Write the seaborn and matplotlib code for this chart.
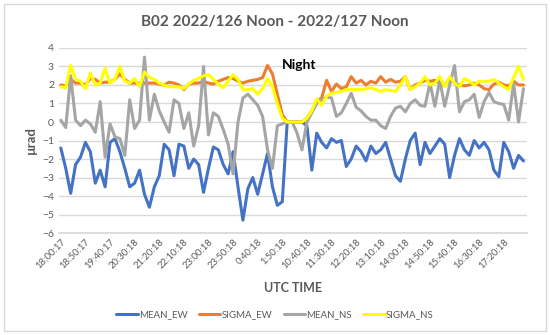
import numpy as np
import pandas as pd
import matplotlib
matplotlib.use("Agg")
import matplotlib.pyplot as plt
import seaborn as sns
from matplotlib.patches import Rectangle

sns.set_theme(style="white")
plt.rcParams["font.family"] = ["Lato", "DejaVu Sans"]

TEXT = "#595959"
GRID = "#d9d9d9"

# ── data (one value every 10 min sample) ─────────────────────────────────────
tick_labels = ["18:00:17", "18:50:17", "19:40:17", "20:30:18", "21:20:18",
               "22:10:18", "23:00:18", "23:50:18", "0:40:18", "1:50:18",
               "10:40:18", "11:30:18", "12:20:18", "13:10:18", "14:00:18",
               "14:50:18", "15:40:18", "16:30:18", "17:20:18"]

mean_ew = [-1.4, -2.5, -3.85, -2.3, -1.9, -1.1, -1.6, -3.3, -2.6, -3.5,
           -1.1, -0.9, -1.6, -2.5, -3.5, -3.3, -2.6, -3.9, -4.6, -3.5,
           -2.9, -1.2, -1.5, -2.9, -1.2, -1.3, -2.5, -2.0, -2.3, -3.8,
           -2.5, -1.35, -1.5, -2.3, -2.8, -1.6, -3.5, -5.3, -3.6, -3.0,
           -3.9, -2.8, -1.7, -3.5, -4.5, -4.3, 0.0, 0.0, 0.0, 0.0,
           -0.2, -2.6, -0.6, -1.1, -1.4, -0.9, -1.1, -1.0, -2.4, -2.0,
           -1.3, -1.6, -2.1, -1.3, -1.7, -1.5, -1.1, -2.0, -2.9, -3.2,
           -2.0, -1.0, -0.6, -2.3, -1.1, -1.7, -1.3, -0.9, -1.2, -3.0,
           -1.8, -0.9, -1.5, -1.8, -1.0, -1.4, -1.1, -1.5, -2.6, -2.95,
           -1.1, -1.6, -2.5, -1.8, -2.1]

sigma_ew = [2.0, 1.95, 2.3, 2.1, 2.1, 2.0, 2.35, 2.3, 2.1, 2.15,
            2.15, 2.3, 2.6, 2.3, 2.1, 2.1, 2.1, 2.1, 2.1, 2.1,
            2.05, 2.0, 2.15, 2.1, 2.0, 1.75, 2.05, 2.1, 2.1, 2.2,
            2.1, 2.05, 2.2, 2.3, 2.4, 2.35, 2.2, 2.1, 2.2, 2.25,
            2.3, 2.4, 3.05, 2.6, 1.5, 0.4, 0.0, 0.0, 0.0, 0.0,
            0.2, 0.6, 1.1, 1.3, 2.25, 1.65, 2.05, 1.8, 1.9, 2.45,
            2.1, 2.25, 2.0, 2.2, 2.1, 2.45, 2.15, 2.3, 2.15, 2.2,
            2.45, 1.75, 2.0, 2.1, 2.25, 2.2, 2.25, 2.1, 2.0, 2.35,
            2.1, 2.0, 1.95, 2.0, 2.1, 2.0, 1.8, 1.75, 2.05, 2.15,
            2.0, 1.95, 2.2, 2.0, 2.0]

mean_ns = [0.1, -0.3, 2.5, 0.1, -0.2, 0.1, -0.1, -0.55, 1.1, -1.9,
           -0.1, -0.8, -0.9, -1.8, 1.2, -0.35, 0.1, 3.5, 0.1, 1.5,
           0.6, 0.0, -0.55, 1.2, 1.0, -0.35, 0.5, -1.3, -0.2, 3.0,
           -0.7, 0.5, 0.3, -0.4, -1.2, -2.8, 0.0, 1.3, 1.5, 1.2,
           0.9, 0.3, -1.5, -2.5, -0.2, -0.1, 0.0, 0.0, -0.6, -1.5,
           0.0, 0.5, 1.0, 1.2, 1.35, 1.3, 0.3, 0.5, 1.0, 1.55,
           0.8, 0.6, 0.3, 0.1, 0.1, -0.2, -0.35, 0.3, 0.75, 0.85,
           0.55, 1.0, 1.2, 0.9, 0.85, 2.1, 0.85, 2.25, 0.85, 2.0,
           3.05, 0.55, 1.1, 1.2, 1.5, 0.25, 1.1, 1.6, 1.1, 1.0,
           0.95, 0.1, 2.1, 0.0, 1.8]

sigma_ns = [1.9, 1.85, 3.05, 2.3, 2.2, 1.8, 2.65, 2.0, 2.1, 2.9,
            2.1, 2.3, 3.0, 2.2, 2.1, 2.35, 1.9, 2.7, 2.4, 2.3,
            2.1, 2.0, 1.9, 1.9, 1.9, 1.8, 2.05, 2.25, 2.35, 2.5,
            2.55, 2.3, 2.05, 1.85, 2.2, 2.55, 2.3, 1.75, 1.75, 1.8,
            1.5, 1.8, 2.35, 1.9, 1.0, 0.2, 0.0, 0.0, 0.0, 0.0,
            0.2, 0.6, 1.25, 0.9, 1.4, 1.55, 1.6, 1.65, 1.75, 1.75,
            1.75, 1.75, 1.8, 1.85, 1.75, 1.65, 1.75, 1.7, 1.65, 2.0,
            2.45, 1.75, 1.9, 2.1, 2.45, 2.0, 2.1, 2.45, 1.9, 2.45,
            2.1, 1.9, 2.35, 2.2, 2.0, 2.2, 2.2, 2.2, 2.3, 2.1,
            1.9, 1.75, 2.4, 3.0, 2.3]

series = {"MEAN_EW": mean_ew, "SIGMA_EW": sigma_ew,
          "MEAN_NS": mean_ns, "SIGMA_NS": sigma_ns}
colors = {"MEAN_EW": "#4472C4", "SIGMA_EW": "#ED7D31",
          "MEAN_NS": "#A5A5A5", "SIGMA_NS": "#FFFF00"}

df = pd.concat([pd.DataFrame({"idx": np.arange(len(v)), "value": v, "series": k})
                for k, v in series.items()], ignore_index=True)

# ── plot ─────────────────────────────────────────────────────────────────────
fig = plt.figure(figsize=(5.5, 3.35), dpi=100)
fig.patches.append(Rectangle((0.008, 0.012), 0.984, 0.976, transform=fig.transFigure,
                             fill=False, edgecolor=GRID, linewidth=1))
ax = fig.add_axes([0.107, 0.304, 0.851, 0.553])

sns.lineplot(data=df, x="idx", y="value", hue="series", palette=colors,
             linewidth=2.2, ax=ax, legend=True, sort=False)

ax.set_xlim(-0.4, 94.7)
ax.set_ylim(-6, 4)
ax.set_yticks(range(-6, 5))
ax.set_xticks(range(0, 5 * len(tick_labels), 5))
ax.set_xticklabels(tick_labels, rotation=45, ha="right", rotation_mode="anchor")
ax.tick_params(axis="both", length=0, labelsize=7.5, colors=TEXT)
ax.tick_params(axis="x", labelsize=6.8, pad=3)
ax.yaxis.grid(True, color=GRID, linewidth=1)
ax.xaxis.grid(False)
for s in ["top", "right", "left"]:
    ax.spines[s].set_visible(False)
ax.spines["bottom"].set_color(GRID)

ax.set_xlabel("UTC TIME", fontsize=9, fontweight="bold", color=TEXT, labelpad=8)
ax.set_ylabel("µrad", fontsize=9.5, fontweight="bold", color=TEXT, labelpad=4)
fig.suptitle("B02 2022/126 Noon - 2022/127 Noon", y=0.955, fontsize=11,
             fontweight="bold", color=TEXT)
ax.text(45, 3.1, "Night", fontsize=10, fontweight="bold", color="black",
        ha="left", va="center")

handles, labels = ax.get_legend_handles_labels()
ax.get_legend().remove()
fig.legend(handles, labels, loc="center", bbox_to_anchor=(0.5, 0.06), ncol=4,
           frameon=False, fontsize=7, handlelength=2.2, handletextpad=0.1,
           columnspacing=1.2, labelcolor=TEXT)

fig.savefig("out.png", dpi=100)
